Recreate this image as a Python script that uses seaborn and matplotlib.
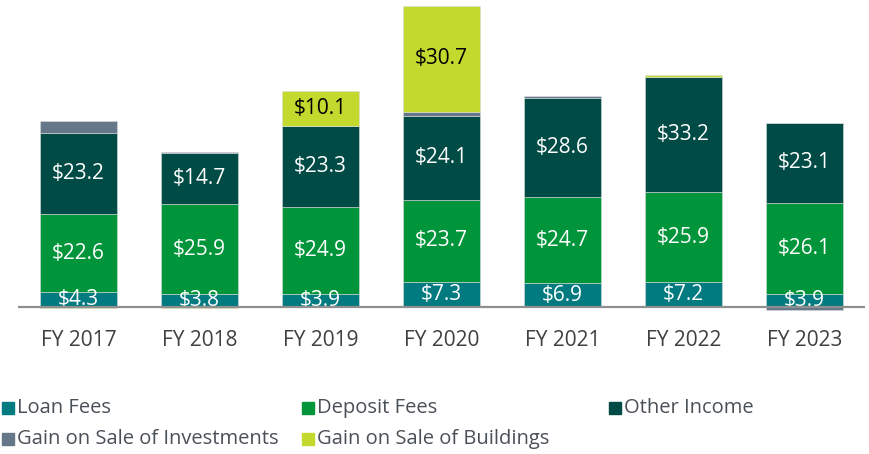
import numpy as np
import pandas as pd
import matplotlib.pyplot as plt
import seaborn as sns
from matplotlib.patches import Rectangle

# данные (в млн $)
years = ['FY 2017', 'FY 2018', 'FY 2019', 'FY 2020', 'FY 2021', 'FY 2022', 'FY 2023']
loan_fees = [4.3, 3.8, 3.9, 7.3, 6.9, 7.2, 3.9]
deposit_fees = [22.6, 25.9, 24.9, 23.7, 24.7, 25.9, 26.1]
other_income = [23.2, 14.7, 23.3, 24.1, 28.6, 33.2, 23.1]
gain_investments = [3.5, 0.2, 0.0, 1.1, 0.5, 0.0, -0.9]
gain_buildings = [-0.3, -0.3, 10.1, 30.7, 0.0, 0.5, 0.0]

series = [
    ('Loan Fees', loan_fees, '#017a80'),
    ('Deposit Fees', deposit_fees, '#00953a'),
    ('Other Income', other_income, '#004b45'),
    ('Gain on Sale of Investments', gain_investments, '#667789'),
    ('Gain on Sale of Buildings', gain_buildings, '#c3d92e'),
]

sns.set_style('white')
plt.rcParams['font.family'] = ['Open Sans', 'DejaVu Sans']

fig = plt.figure(figsize=(8.69, 4.54), dpi=100)
W, H = 869, 454
ax = fig.add_axes([18 / W, (H - 320) / H, 847 / W, 320 / H])

pos_base = np.zeros(len(years))
neg_base = np.zeros(len(years))
for name, vals, col in series:
    vals = np.array(vals)
    bottom = np.where(vals >= 0, pos_base, neg_base)
    df = pd.DataFrame({'year': years, 'value': vals})
    sns.barplot(data=df, x='year', y='value', order=years, color=col, saturation=1,
                width=0.63, errorbar=None, bottom=bottom, ax=ax,
                edgecolor='#d8dcdc', linewidth=0.4)
    # подписи значений
    for i, v in enumerate(vals):
        if name == 'Gain on Sale of Investments':
            continue
        if name == 'Gain on Sale of Buildings' and v < 5:
            continue
        if v <= 0:
            continue
        txt_col = 'black' if name == 'Gain on Sale of Buildings' else 'white'
        ax.text(i, bottom[i] + v / 2, f'${v:.1f}', ha='center', va='center',
                color=txt_col, fontsize=15)
    pos_base = pos_base + np.where(vals >= 0, vals, 0)
    neg_base = neg_base + np.where(vals < 0, vals, 0)

ax.axhline(0, color='#8f8f8f', linewidth=1.6, zorder=5)
ax.set_xlim(-0.5, 6.5)
ax.set_ylim(-3.7, 88.5)
ax.set_xlabel('')
ax.set_ylabel('')
ax.set_yticks([])
ax.tick_params(axis='x', length=0, pad=7, labelsize=15, labelcolor='#404040')
for s in ax.spines.values():
    s.set_visible(False)

# легенда вручную: две строки
legend_pos = [(2, 408), (302, 408), (609, 408), (2, 439), (302, 439)]
for (name, vals, col), (lx, ly) in zip(series, legend_pos):
    fig.patches.append(Rectangle((lx / W, (H - ly - 6) / H), 12 / W, 12 / H,
                                 transform=fig.transFigure, color=col))
    fig.text((lx + 15) / W, (H - ly) / H, name, ha='left', va='center',
             fontsize=14.5, color='#4a5057')

plt.savefig('out.png', dpi=100)
